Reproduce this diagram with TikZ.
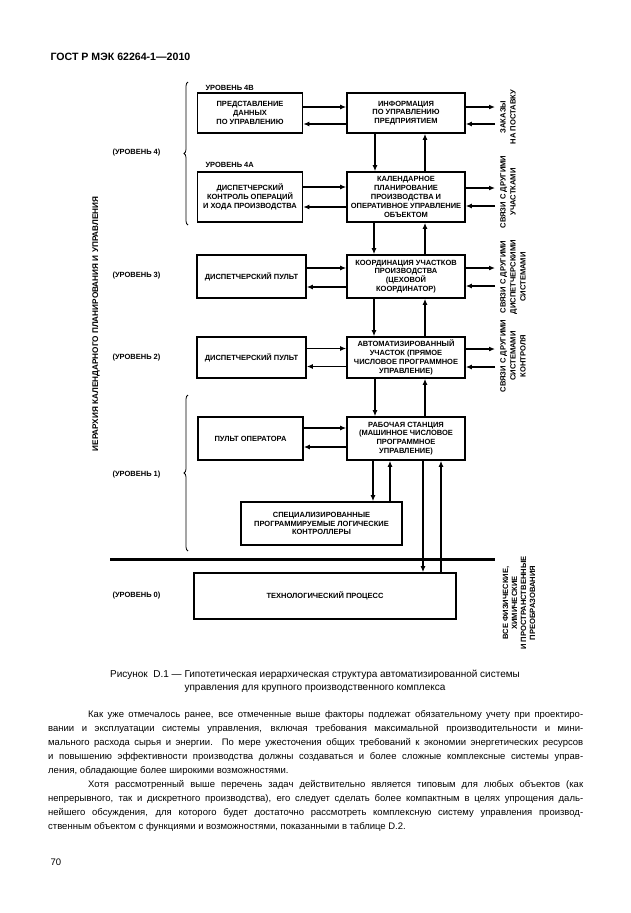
\documentclass[tikz,border=0pt]{standalone}
\usepackage{fontspec}
\setmainfont{Liberation Sans}
\usetikzlibrary{arrows.meta,decorations.pathreplacing}

\begin{document}
\begin{tikzpicture}[x=1pt,y=-1pt,
        box/.style={draw,rectangle,line width=1.6pt,inner sep=1pt,align=center,font=\bfseries\fontsize{7.5}{8.8}\selectfont},
        lbox/.style={box,minimum width=105pt},
        cbox/.style={box,minimum width=118pt},
        arr/.style={-{Latex[length=6pt,width=5pt]},line width=1.8pt},
        lvl/.style={anchor=west,font=\bfseries\fontsize{7.5}{8.8}\selectfont},
        side/.style={rotate=90,align=center,font=\bfseries\fontsize{7.6}{10}\selectfont},
        brc/.style={decorate,decoration={brace,amplitude=4pt},line width=0.8pt}]
    \useasboundingbox (0,0) rectangle (630,913);

    \node[anchor=west,font=\bfseries\fontsize{10.6}{12}\selectfont] (head) at (47,57) {ГОСТ Р МЭК 62264-1—2010};

    % levels 4B and 4A
    \node[lvl] (t4b) at (202,88) {УРОВЕНЬ 4В};
    \node[lbox,minimum height=40pt] (l4b) at (250,113) {ПРЕДСТАВЛЕНИЕ\\ДАННЫХ\\ПО УПРАВЛЕНИЮ};
    \node[cbox,minimum height=40pt] (c4b) at (406,113) {ИНФОРМАЦИЯ\\ПО УПРАВЛЕНИЮ\\ПРЕДПРИЯТИЕМ};
    \node[lvl] (t4a) at (202,165) {УРОВЕНЬ 4А};
    \node[lbox,minimum height=50pt] (l4a) at (250,197) {ДИСПЕТЧЕРСКИЙ\\КОНТРОЛЬ ОПЕРАЦИЙ\\И ХОДА ПРОИЗВОДСТВА};
    \node[cbox,minimum height=50pt] (c4a) at (406,197) {КАЛЕНДАРНОЕ\\ПЛАНИРОВАНИЕ\\ПРОИЗВОДСТВА И\\ОПЕРАТИВНОЕ УПРАВЛЕНИЕ\\ОБЪЕКТОМ};

    % levels 3, 2, 1
    \node[lbox,minimum width=109pt,minimum height=43pt] (l3) at (251.5,276.5) {ДИСПЕТЧЕРСКИЙ ПУЛЬТ};
    \node[cbox,minimum height=43pt] (c3) at (406,276.5) {КООРДИНАЦИЯ УЧАСТКОВ\\ПРОИЗВОДСТВА\\(ЦЕХОВОЙ\\КООРДИНАТОР)};
    \node[lbox,minimum width=109pt,minimum height=41pt] (l2) at (251.5,357.5) {ДИСПЕТЧЕРСКИЙ ПУЛЬТ};
    \node[cbox,minimum height=41pt] (c2) at (406,357.5) {АВТОМАТИЗИРОВАННЫЙ\\УЧАСТОК (ПРЯМОЕ\\ЧИСЛОВОЕ ПРОГРАММНОЕ\\УПРАВЛЕНИЕ)};
    \node[lbox,minimum height=43pt] (l1) at (250.5,438.5) {ПУЛЬТ ОПЕРАТОРА};
    \node[cbox,minimum height=43pt] (c1) at (406,438.5) {РАБОЧАЯ СТАНЦИЯ\\(МАШИННОЕ ЧИСЛОВОЕ\\ПРОГРАММНОЕ\\УПРАВЛЕНИЕ)};
    \node[box,minimum width=161pt,minimum height=43pt] (plc) at (321.5,523.5) {СПЕЦИАЛИЗИРОВАННЫЕ\\ПРОГРАММИРУЕМЫЕ ЛОГИЧЕСКИЕ\\КОНТРОЛЛЕРЫ};
    \node[box,minimum width=262pt,minimum height=46pt] (proc) at (325,596) {ТЕХНОЛОГИЧЕСКИЙ ПРОЦЕСС};

    % level labels and braces
    \node[lvl] (u4) at (109,153) {(УРОВЕНЬ 4)};
    \node[lvl] (u3) at (109,276) {(УРОВЕНЬ 3)};
    \node[lvl] (u2) at (109,358) {(УРОВЕНЬ 2)};
    \node[lvl] (u1) at (109,475) {(УРОВЕНЬ 1)};
    \node[lvl] (u0) at (109,596) {(УРОВЕНЬ 0)};
    \draw[brc] (188,225) -- (188,82);
    \draw[brc] (188,551) -- (188,395);
    \node[rotate=90,font=\bfseries\fontsize{8.2}{9}\selectfont] (hier) at (96,324) {ИЕРАРХИЯ КАЛЕНДАРНОГО ПЛАНИРОВАНИЯ И УПРАВЛЕНИЯ};

    % horizontal links
    \draw[arr] ([yshift=6pt]l4b.east) -- ([yshift=6pt]c4b.west);
    \draw[arr] ([yshift=-11pt]c4b.west) -- ([yshift=-11pt]l4b.east);
    \draw[arr] ([yshift=10pt]l4a.east) -- ([yshift=10pt]c4a.west);
    \draw[arr] ([yshift=-10pt]c4a.west) -- ([yshift=-10pt]l4a.east);
    \draw[arr] ([yshift=8.5pt]l3.east) -- ([yshift=8.5pt]c3.west);
    \draw[arr] ([yshift=-10.5pt]c3.west) -- ([yshift=-10.5pt]l3.east);
    \draw[arr] ([yshift=9pt]l2.east) -- ([yshift=9pt]c2.west);
    \draw[arr] ([yshift=-9pt]c2.west) -- ([yshift=-9pt]l2.east);
    \draw[arr] ([yshift=10.5pt]l1.east) -- ([yshift=10.5pt]c1.west);
    \draw[arr] ([yshift=-8.5pt]c1.west) -- ([yshift=-8.5pt]l1.east);

    % vertical links
    \draw[arr] ([xshift=-31pt]c4b.south) -- ([xshift=-31pt]c4a.north);
    \draw[arr] ([xshift=19pt]c4a.north) -- ([xshift=19pt]c4b.south);
    \draw[arr] ([xshift=-32pt]c4a.south) -- ([xshift=-32pt]c3.north);
    \draw[arr] ([xshift=19pt]c3.north) -- ([xshift=19pt]c4a.south);
    \draw[arr] ([xshift=-32pt]c3.south) -- ([xshift=-32pt]c2.north);
    \draw[arr] ([xshift=19pt]c2.north) -- ([xshift=19pt]c3.south);
    \draw[arr] ([xshift=-31pt]c2.south) -- ([xshift=-31pt]c1.north);
    \draw[arr] ([xshift=19pt]c1.north) -- ([xshift=19pt]c2.south);
    \draw[arr] ([xshift=-33pt]c1.south) -- ([xshift=51.5pt]plc.north);
    \draw[arr] ([xshift=68.5pt]plc.north) -- ([xshift=-16pt]c1.south);
    \draw[arr] ([xshift=17pt]c1.south) -- ([xshift=98pt]proc.north);
    \draw[arr] ([xshift=116pt]proc.north) -- ([xshift=35pt]c1.south);
    \draw[line width=3pt] (110,559) -- (495,559);

    % outside links
    \coordinate (e4b) at (495,113);
    \coordinate (e4a) at (495,197);
    \coordinate (e3) at (495,276.5);
    \coordinate (e2) at (495,357.5);
    \draw[arr] ([yshift=6pt]c4b.east) -- ([yshift=6pt]e4b);
    \draw[arr] ([yshift=-11pt]e4b) -- ([yshift=-11pt]c4b.east);
    \draw[arr] ([yshift=9pt]c4a.east) -- ([yshift=9pt]e4a);
    \draw[arr] ([yshift=-9pt]e4a) -- ([yshift=-9pt]c4a.east);
    \draw[arr] ([yshift=8.5pt]c3.east) -- ([yshift=8.5pt]e3);
    \draw[arr] ([yshift=-9.5pt]e3) -- ([yshift=-9.5pt]c3.east);
    \draw[arr] ([yshift=8.5pt]c2.east) -- ([yshift=8.5pt]e2);
    \draw[arr] ([yshift=-9.5pt]e2) -- ([yshift=-9.5pt]c2.east);
    \node[side] (s4b) at (508,117) {ЗАКАЗЫ\\НА ПОСТАВКУ};
    \node[side] (s4a) at (508,192) {СВЯЗИ С ДРУГИМИ\\УЧАСТКАМИ};
    \node[side] (s3) at (513,277) {СВЯЗИ С ДРУГИМИ\\ДИСПЕТЧЕРСКИМИ\\СИСТЕМАМИ};
    \node[side] (s2) at (513,356) {СВЯЗИ С ДРУГИМИ\\СИСТЕМАМИ\\КОНТРОЛЯ};
    \node[side,font=\bfseries\fontsize{7.6}{9}\selectfont] (s0) at (519,603) {ВСЕ ФИЗИЧЕСКИЕ,\\ХИМИЧЕСКИЕ\\И ПРОСТРАНСТВЕННЫЕ\\ПРЕОБРАЗОВАНИЯ};

    % caption and text
    \node[align=center,font=\fontsize{10}{13}\selectfont] (cap) at (315,681) {Рисунок\ \ D.1 — Гипотетическая иерархическая структура автоматизированной системы\\управления для крупного производственного комплекса};
    \node[anchor=north west,align=left,inner sep=0pt,font=\fontsize{9.5}{14}\selectfont] (body) at (48,710) {%
        \makebox[535pt][s]{\hspace*{40pt}Как уже отмечалось ранее, все отмеченные выше факторы подлежат обязательному учету при проектиро-}\\
        \makebox[535pt][s]{вании и эксплуатации системы управления, включая требования максимальной производительности и мини-}\\
        \makebox[535pt][s]{мального расхода сырья и энергии. По мере ужесточения общих требований к экономии энергетических ресурсов}\\
        \makebox[535pt][s]{и повышению эффективности производства должны создаваться и более сложные комплексные системы управ-}\\
        ления, обладающие более широкими возможностями.\\
        \makebox[535pt][s]{\hspace*{40pt}Хотя рассмотренный выше перечень задач действительно является типовым для любых объектов (как}\\
        \makebox[535pt][s]{непрерывного, так и дискретного производства), его следует сделать более компактным в целях упрощения даль-}\\
        \makebox[535pt][s]{нейшего обсуждения, для которого будет достаточно рассмотреть комплексную систему управления производ-}\\
        ственным объектом с функциями и возможностями, показанными в таблице D.2.};
    \node[anchor=west,font=\fontsize{9.5}{12}\selectfont] (page) at (47,862) {70};
\end{tikzpicture}
\end{document}
